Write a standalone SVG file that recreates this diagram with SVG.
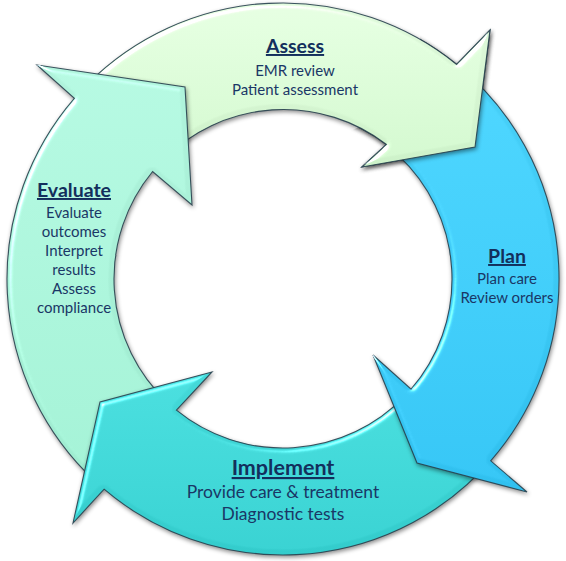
<svg xmlns="http://www.w3.org/2000/svg" xmlns:xlink="http://www.w3.org/1999/xlink" width="566" height="561" viewBox="0 0 566 561">
  <style>
    .arrow { stroke: #28414f; stroke-width: 1.1; stroke-opacity: 0.9; filter: url(#bevel); }
    .title { font-family: Lato, "Open Sans", sans-serif; font-weight: bold; font-size: 19.5px; fill: #132f5c; text-anchor: middle; text-decoration: underline; }
    .body { font-family: Lato, "Open Sans", sans-serif; font-size: 15px; fill: #1a3766; text-anchor: middle; }
    .big-title { font-size: 21.5px; }
    .big-body { font-size: 17.5px; }
  </style>
  <defs>
    <linearGradient id="gAssess" x1="0" y1="0" x2="0" y2="1">
      <stop offset="0" stop-color="#e0f9dc"/>
      <stop offset="1" stop-color="#cdf2c9"/>
    </linearGradient>
    <linearGradient id="gPlan" x1="0" y1="0" x2="0" y2="1">
      <stop offset="0" stop-color="#48d0f8"/>
      <stop offset="1" stop-color="#30c0ef"/>
    </linearGradient>
    <linearGradient id="gImpl" x1="0" y1="0" x2="0" y2="1">
      <stop offset="0" stop-color="#45d9d9"/>
      <stop offset="1" stop-color="#33cccc"/>
    </linearGradient>
    <linearGradient id="gEval" x1="0" y1="0" x2="0" y2="1">
      <stop offset="0" stop-color="#b0f3dc"/>
      <stop offset="1" stop-color="#9eecd0"/>
    </linearGradient>
    <filter id="bevel" x="-10%" y="-10%" width="125%" height="125%" color-interpolation-filters="sRGB">
      <feGaussianBlur in="SourceAlpha" stdDeviation="2.5" result="blur"/>
      <feSpecularLighting in="blur" surfaceScale="3" specularConstant="0.7" specularExponent="40" lighting-color="#ffffff" result="spec">
        <feDistantLight azimuth="225" elevation="45"/>
      </feSpecularLighting>
      <feComposite in="spec" in2="SourceAlpha" operator="in" result="specIn"/>
      <feComposite in="SourceGraphic" in2="specIn" operator="arithmetic" k1="0" k2="1" k3="1" k4="0" result="lit"/>
      <feOffset in="SourceAlpha" dx="1" dy="2" result="off"/>
      <feGaussianBlur in="off" stdDeviation="2" result="sh"/>
      <feFlood flood-color="#000000" flood-opacity="0.45"/>
      <feComposite in2="sh" operator="in" result="shadow"/>
      <feMerge>
        <feMergeNode in="shadow"/>
        <feMergeNode in="lit"/>
      </feMerge>
    </filter>
    <clipPath id="clipAssessHead">
      <polygon points="420,0 566,0 566,200 330,200 330,140 420,100"/>
    </clipPath>
    <path id="pAssess" d="M 87.8,83.8 A 276 276 0 0 1 456.7,64.5 L 490,30 L 475,147 L 362,167 L 386.5,144.5 A 169 169 0 0 0 163.5,159.5 Z"/>
  </defs>

  <g id="connectors">
    <use id="arrow-assess" xlink:href="#pAssess" class="arrow" fill="url(#gAssess)"/>
    <path id="arrow-evaluate" class="arrow" fill="url(#gEval)" d="M 94.8,480.9 A 276 276 0 0 1 74.4,98.3 L 37,65 L 185,87 L 192,205 L 152.6,171.5 A 169 169 0 0 0 167.7,402.6 Z"/>
    <path id="arrow-implement" class="arrow" fill="url(#gImpl)" d="M 481.5,470.7 A 276 276 0 0 1 104.1,489.2 L 73,523 L 100,402 L 212,372 L 176.4,410.1 A 169 169 0 0 0 404.6,396.4 Z"/>
    <path id="arrow-plan" class="arrow" fill="url(#gPlan)" d="M 471.2,77.1 A 276 276 0 0 1 490.7,460.8 L 527,492 L 417,463 L 373,355 L 411.1,389.2 A 169 169 0 0 0 398.3,155.4 Z"/>
    <g clip-path="url(#clipAssessHead)">
      <use xlink:href="#pAssess" class="arrow" fill="url(#gAssess)"/>
    </g>
  </g>

  <g id="node-assess">
    <text class="title" x="295" y="53">Assess</text>
    <text class="body" x="295" y="76">EMR review</text>
    <text class="body" x="295" y="95">Patient assessment</text>
  </g>
  <g id="node-plan">
    <text class="title" x="507" y="263">Plan</text>
    <text class="body" x="507" y="284">Plan care</text>
    <text class="body" x="507" y="303">Review orders</text>
  </g>
  <g id="node-implement">
    <text class="title big-title" x="283" y="475">Implement</text>
    <text class="body big-body" x="283" y="498">Provide care &amp; treatment</text>
    <text class="body big-body" x="283" y="520">Diagnostic tests</text>
  </g>
  <g id="node-evaluate">
    <text class="title" x="74" y="197">Evaluate</text>
    <text class="body" x="74" y="218">Evaluate</text>
    <text class="body" x="74" y="237">outcomes</text>
    <text class="body" x="74" y="256">Interpret</text>
    <text class="body" x="74" y="275">results</text>
    <text class="body" x="74" y="294">Assess</text>
    <text class="body" x="74" y="313">compliance</text>
  </g>
</svg>
